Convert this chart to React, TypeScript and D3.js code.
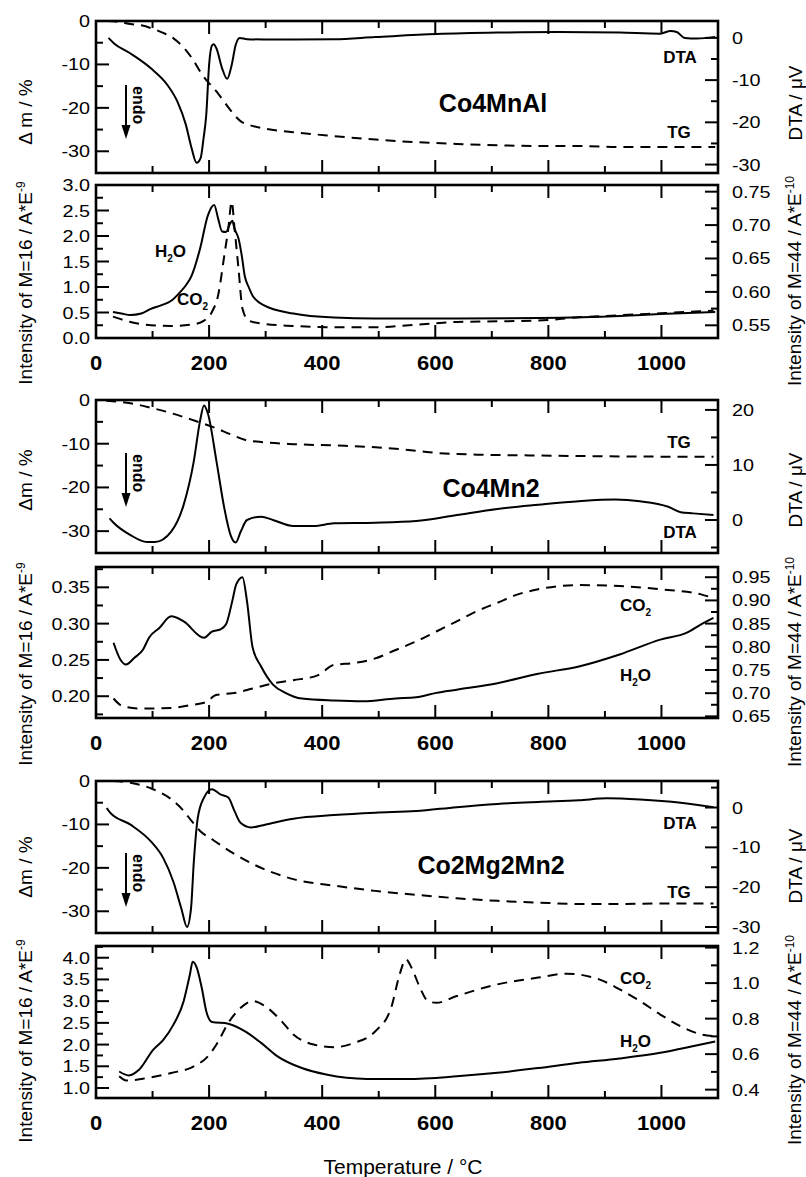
import React from 'react';
import * as d3 from 'd3';

type Pt = [number, number];

// ---------- Data (temperature °C, value) ----------
// Co4MnAl
const alTG: Pt[] = [[20,0],[40,-0.2],[61,-0.7],[80,-1.0],[101,-1.8],[120,-2.8],[137,-4.0],[157,-6.4],[172,-9.0],[184,-11.6],[195,-13.6],[205,-15.0],[220,-17.4],[237,-20.4],[255,-23.0],[278,-24.2],[300,-24.8],[349,-25.6],[421,-26.5],[494,-27.3],[566,-27.9],[638,-28.3],[710,-28.6],[782,-28.8],[854,-28.8],[926,-29.0],[1000,-29.0],[1095,-29.0]];
const alDTA: Pt[] = [[22,0],[32,-1.3],[61,-3.7],[97,-7.2],[126,-11.1],[144,-15.1],[159,-20.6],[169,-26.1],[178,-29.6],[185,-28.5],[190,-24],[195,-18.2],[200,-6.4],[205,-1.8],[208,-1.5],[213,-2.5],[223,-7.2],[232,-9.7],[240,-6.4],[247,-1.7],[254,0],[267,-0.3],[313,-0.4],[421,-0.3],[494,0.2],[602,0.9],[710,1.25],[818,1.4],[926,1.25],[998,1.0],[1016,1.65],[1027,1.4],[1041,0],[1063,-0.15],[1095,0.24]];
const alH2O: Pt[] = [[30,0.51],[45,0.48],[61,0.45],[80,0.48],[97,0.57],[115,0.64],[133,0.73],[148,0.89],[160,1.05],[169,1.22],[184,1.75],[198,2.41],[209,2.61],[216,2.34],[223,2.09],[230,2.08],[237,2.24],[241,2.3],[245,2.14],[252,1.95],[258,1.6],[263,1.22],[270,1.0],[277,0.83],[299,0.63],[349,0.48],[421,0.40],[494,0.38],[638,0.38],[782,0.39],[926,0.43],[998,0.47],[1095,0.51]];
const alCO2: Pt[] = [[30,0.563],[61,0.555],[97,0.55],[133,0.549],[169,0.551],[191,0.557],[205,0.570],[216,0.595],[227,0.655],[234,0.695],[240,0.735],[245,0.695],[252,0.635],[259,0.575],[270,0.557],[299,0.552],[349,0.549],[421,0.547],[494,0.547],[566,0.551],[638,0.555],[710,0.556],[782,0.557],[854,0.562],[926,0.565],[998,0.568],[1092,0.572]];

// Co4Mn2
const mnTG: Pt[] = [[18,-0.2],[61,-0.75],[101,-1.9],[133,-3.0],[169,-4.5],[205,-6.1],[241,-8.0],[263,-9.1],[292,-9.6],[349,-10.1],[421,-10.4],[494,-10.8],[566,-11.6],[602,-12.1],[674,-12.5],[782,-12.7],[926,-12.9],[1092,-13.0]];
const mnDTA: Pt[] = [[24,0.3],[32,-0.6],[61,-2.75],[90,-4.0],[104,-4.0],[133,-2.1],[155,2.75],[173,10.7],[184,18.0],[191,20.8],[198,19.3],[213,10.7],[227,2.1],[238,-2.75],[247,-4.1],[256,-2.1],[267,0],[292,0.6],[313,0],[349,-1.1],[385,-1.1],[421,-0.6],[494,-0.5],[566,-0.2],[638,0.9],[710,2.0],[782,2.75],[854,3.4],[918,3.7],[962,3.4],[1012,2.4],[1034,1.4],[1056,1.2],[1092,0.9]];
const mnH2O: Pt[] = [[31,0.2736],[43,0.2506],[53,0.2437],[68,0.253],[83,0.264],[94,0.281],[112,0.294],[133,0.310],[155,0.303],[191,0.2805],[205,0.289],[220,0.292],[230,0.299],[241,0.331],[248,0.354],[259,0.364],[267,0.331],[277,0.267],[292,0.241],[313,0.216],[335,0.2046],[364,0.1967],[421,0.194],[472,0.193],[530,0.197],[566,0.1985],[602,0.2046],[638,0.209],[710,0.218],[782,0.231],[854,0.241],[926,0.2575],[998,0.278],[1045,0.2875],[1070,0.299],[1092,0.308]];
const mnCO2: Pt[] = [[31,0.6885],[47,0.672],[76,0.667],[133,0.668],[166,0.674],[195,0.681],[212,0.696],[248,0.701],[277,0.710],[313,0.721],[349,0.728],[393,0.739],[421,0.761],[457,0.765],[494,0.775],[530,0.793],[566,0.8115],[602,0.833],[638,0.855],[674,0.877],[710,0.895],[746,0.913],[782,0.924],[854,0.933],[926,0.931],[998,0.924],[1070,0.913],[1092,0.905]];

// Co2Mg2Mn2
const mgTG: Pt[] = [[30,0],[61,-0.4],[101,-1.9],[133,-4.2],[155,-6.9],[169,-9.2],[184,-11.5],[205,-13.4],[241,-16.5],[277,-19.1],[313,-21.1],[349,-22.6],[421,-24.1],[494,-25.3],[566,-26.2],[638,-27.0],[710,-27.6],[782,-28.0],[854,-28.3],[926,-28.3],[998,-28.2],[1092,-28.2]];
const mgDTA: Pt[] = [[19,-0.1],[25,-1.3],[61,-4.3],[97,-8.5],[119,-12.7],[137,-18.7],[151,-25.4],[161,-30.0],[168,-25.4],[173,-13.6],[180,-2.6],[191,2.5],[205,4.6],[220,3.3],[234,2.5],[245,-0.9],[256,-3.9],[274,-5.0],[299,-4.3],[349,-2.8],[421,-1.9],[494,-1.3],[566,-0.9],[638,0.1],[710,0.9],[782,1.4],[854,1.8],[904,2.3],[962,2.0],[1034,1.2],[1092,0.1]];
const mgH2O: Pt[] = [[41,1.38],[58,1.29],[76,1.42],[101,1.88],[119,2.11],[137,2.46],[155,3.0],[166,3.61],[171,3.91],[178,3.78],[187,3.31],[195,2.77],[205,2.52],[234,2.48],[263,2.31],[292,2.04],[321,1.73],[364,1.46],[407,1.31],[479,1.21],[551,1.21],[638,1.27],[710,1.35],[782,1.46],[854,1.58],[926,1.68],[998,1.81],[1055,1.96],[1095,2.07]];
const mgCO2: Pt[] = [[41,0.475],[54,0.451],[83,0.462],[133,0.494],[173,0.531],[198,0.588],[213,0.654],[234,0.776],[256,0.861],[277,0.899],[299,0.870],[328,0.786],[349,0.711],[385,0.654],[421,0.639],[457,0.664],[494,0.729],[522,0.861],[537,1.049],[548,1.134],[558,1.087],[573,0.974],[587,0.899],[602,0.889],[638,0.927],[710,0.993],[782,1.031],[832,1.053],[890,1.021],[926,0.965],[962,0.899],[998,0.823],[1034,0.757],[1070,0.711],[1095,0.701]];

// Tick labels
const tempTicks = [0, 200, 400, 600, 800, 1000];
const massTicks = [0, -10, -20, -30];
const dtaTicksA = [0, -10, -20, -30];
const dtaTicksB = [0, 10, 20];
const dtaTicksC = [0, -10, -20, -30];
const m16TicksA = [0, 0.5, 1.0, 1.5, 2.0, 2.5, 3.0];
const m44TicksA = [0.55, 0.6, 0.65, 0.7, 0.75];
const m16TicksB = [0.2, 0.25, 0.3, 0.35];
const m44TicksB = [0.65, 0.7, 0.75, 0.8, 0.85, 0.9, 0.95];
const m16TicksC = [1.0, 1.5, 2.0, 2.5, 3.0, 3.5, 4.0];
const m44TicksC = [0.4, 0.6, 0.8, 1.0, 1.2];

const FONT = "'Liberation Sans', Arial, Helvetica, sans-serif";
const X0 = 96, X1 = 718;
const x = d3.scaleLinear().domain([0, 1100]).range([X0, X1]);

interface Curve { data: Pt[]; side: 'l' | 'r'; dashed: boolean; }
interface PanelCfg {
  top: number; bottom: number;
  lDom: [number, number]; rDom: [number, number];
  lTicks: number[]; lMinor: number; lDec: number;
  rTicks: number[]; rMinor: number; rDec: number;
  curves: Curve[];
}

const panels: PanelCfg[] = [
  { top: 21, bottom: 173, lDom: [-35, 0], rDom: [-32, 4], lTicks: massTicks, lMinor: 5, lDec: 0, rTicks: dtaTicksA, rMinor: 5, rDec: 0,
    curves: [{ data: alTG, side: 'l', dashed: true }, { data: alDTA, side: 'r', dashed: false }] },
  { top: 185, bottom: 338, lDom: [0, 3.0], rDom: [0.531, 0.760], lTicks: m16TicksA, lMinor: 0.25, lDec: 1, rTicks: m44TicksA, rMinor: 0.025, rDec: 2,
    curves: [{ data: alH2O, side: 'l', dashed: false }, { data: alCO2, side: 'r', dashed: true }] },
  { top: 400, bottom: 553, lDom: [-35, 0], rDom: [-6, 21.8], lTicks: massTicks, lMinor: 5, lDec: 0, rTicks: dtaTicksB, rMinor: 5, rDec: 0,
    curves: [{ data: mnTG, side: 'l', dashed: true }, { data: mnDTA, side: 'r', dashed: false }] },
  { top: 567, bottom: 718, lDom: [0.170, 0.378], rDom: [0.6465, 0.972], lTicks: m16TicksB, lMinor: 0.025, lDec: 2, rTicks: m44TicksB, rMinor: 0.025, rDec: 2,
    curves: [{ data: mnH2O, side: 'l', dashed: false }, { data: mnCO2, side: 'r', dashed: true }] },
  { top: 781, bottom: 933, lDom: [-35, 0], rDom: [-31.5, 6.66], lTicks: massTicks, lMinor: 5, lDec: 0, rTicks: dtaTicksC, rMinor: 5, rDec: 0,
    curves: [{ data: mgTG, side: 'l', dashed: true }, { data: mgDTA, side: 'r', dashed: false }] },
  { top: 946, bottom: 1098, lDom: [0.77, 4.27], rDom: [0.353, 1.209], lTicks: m16TicksC, lMinor: 0.25, lDec: 1, rTicks: m44TicksC, rMinor: 0.1, rDec: 1,
    curves: [{ data: mgH2O, side: 'l', dashed: false }, { data: mgCO2, side: 'r', dashed: true }] },
];

function minorTicks(dom: [number, number], step: number, majors: number[]): number[] {
  const lo = Math.min(dom[0], dom[1]), hi = Math.max(dom[0], dom[1]);
  const out: number[] = [];
  for (let i = Math.ceil(lo / step - 1e-9); i <= Math.floor(hi / step + 1e-9); i++) {
    const v = i * step;
    if (!majors.some(m => Math.abs(m - v) < step / 10)) out.push(v);
  }
  return out;
}

const MAJ = 13, MIN = 7;
const SX = 1.2;

function Panel({ cfg }: { cfg: PanelCfg }) {
  const yL = d3.scaleLinear().domain(cfg.lDom).range([cfg.bottom, cfg.top]);
  const yR = d3.scaleLinear().domain(cfg.rDom).range([cfg.bottom, cfg.top]);
  const xTicks = d3.range(100, 1001, 100);
  const lMin = minorTicks(cfg.lDom, cfg.lMinor, cfg.lTicks);
  const rMin = minorTicks(cfg.rDom, cfg.rMinor, cfg.rTicks);
  return (
    <g>
      {cfg.curves.map((c, i) => {
        const ys = c.side === 'l' ? yL : yR;
        const line = d3.line<Pt>().x(d => x(d[0])).y(d => ys(d[1])).curve(d3.curveMonotoneX);
        return <path key={i} d={line(c.data) || ''} fill="none" stroke="#000" strokeWidth={2}
          strokeDasharray={c.dashed ? '10,7' : undefined} strokeLinejoin="round" />;
      })}
      {xTicks.map(t => {
        const len = t % 200 === 0 ? MAJ : MIN;
        return <g key={'x' + t}>
          <line x1={x(t)} x2={x(t)} y1={cfg.bottom} y2={cfg.bottom - len} stroke="#000" strokeWidth={2} />
          <line x1={x(t)} x2={x(t)} y1={cfg.top} y2={cfg.top + len} stroke="#000" strokeWidth={2} />
        </g>;
      })}
      {cfg.lTicks.map(v => <g key={'l' + v}>
        <line x1={X0} x2={X0 + MAJ} y1={yL(v)} y2={yL(v)} stroke="#000" strokeWidth={2} />
        <text transform={`translate(90,${yL(v) + 6}) scale(${SX},1)`} textAnchor="end" fontSize={16.5} fontFamily={FONT}>{v.toFixed(cfg.lDec)}</text>
      </g>)}
      {lMin.map(v => <line key={'lm' + v} x1={X0} x2={X0 + MIN} y1={yL(v)} y2={yL(v)} stroke="#000" strokeWidth={2} />)}
      {cfg.rTicks.map(v => <g key={'r' + v}>
        <line x1={X1} x2={X1 - MAJ} y1={yR(v)} y2={yR(v)} stroke="#000" strokeWidth={2} />
        <text transform={`translate(732,${yR(v) + 6}) scale(${SX},1)`} textAnchor="start" fontSize={16.5} fontFamily={FONT}>{v.toFixed(cfg.rDec)}</text>
      </g>)}
      {rMin.map(v => <line key={'rm' + v} x1={X1} x2={X1 - MIN} y1={yR(v)} y2={yR(v)} stroke="#000" strokeWidth={2} />)}
      <rect x={X0} y={cfg.top} width={X1 - X0} height={cfg.bottom - cfg.top} fill="none" stroke="#000" strokeWidth={2.6} />
    </g>
  );
}

function Endo({ top }: { top: number }) {
  return <g>
    <line x1={126} x2={126} y1={top} y2={top + 42} stroke="#000" strokeWidth={2} />
    <path d={`M121.5,${top + 40} L130.5,${top + 40} L126,${top + 54} Z`} fill="#000" />
    <text transform={`translate(133,${top + 1}) rotate(90)`} fontSize={16} fontWeight="bold" fontFamily={FONT}>endo</text>
  </g>;
}

function CO2Label({ x0, y }: { x0: number; y: number }) {
  return <text x={x0} y={y} fontSize={17} fontWeight="bold" fontFamily={FONT}>
    CO<tspan dy={5} fontSize={10}>2</tspan>
  </text>;
}

function H2OLabel({ x0, y }: { x0: number; y: number }) {
  return <text x={x0} y={y} fontSize={17} fontWeight="bold" fontFamily={FONT}>
    H<tspan dy={5} fontSize={10}>2</tspan><tspan dy={-5}>O</tspan>
  </text>;
}

function VTitle({ x0, yc, children }: { x0: number; yc: number; children: React.ReactNode }) {
  return <text transform={`translate(${x0},${yc}) rotate(-90)`} textAnchor="middle" fontSize={19} fontFamily={FONT}>{children}</text>;
}

export default function App() {
  const tg = (xx: number, yy: number, s: string, size = 17) =>
    <text x={xx} y={yy} textAnchor="middle" fontSize={size} fontWeight="bold" fontFamily={FONT}>{s}</text>;
  return (
    <svg width={806} height={1177} style={{ position: 'absolute', left: 0, top: 0, background: '#fff' }}>
      <rect x={0} y={0} width={806} height={1177} fill="#fff" />
      {panels.map((p, i) => <Panel key={i} cfg={p} />)}

      {/* x tick labels */}
      {[338, 718, 1098].map(b => tempTicks.map(t =>
        <text key={b + '-' + t} transform={`translate(${x(t)},${b + 32}) scale(1.1,1)`} textAnchor="middle" fontSize={20} fontWeight="bold" fontFamily={FONT}>{t}</text>))}
      <text x={403} y={1174} textAnchor="middle" fontSize={21} fontFamily={FONT}>Temperature / °C</text>

      {/* panel annotations */}
      {tg(680, 63, 'DTA')}{tg(679, 138, 'TG')}
      {tg(493, 112, 'Co4MnAl', 25)}
      {tg(679, 448, 'TG')}{tg(680, 538, 'DTA')}
      {tg(491, 497, 'Co4Mn2', 25)}
      {tg(680, 829, 'DTA')}{tg(679, 898, 'TG')}
      {tg(491, 874, 'Co2Mg2Mn2', 25)}

      <H2OLabel x0={155} y={257} />
      <CO2Label x0={177} y={305} />
      <CO2Label x0={620} y={611} />
      <H2OLabel x0={620} y={681} />
      <CO2Label x0={620} y={984} />
      <H2OLabel x0={620} y={1047} />

      <Endo top={85} />
      <Endo top={453} />
      <Endo top={853} />

      {/* axis titles */}
      <VTitle x0={32} yc={112}>Δ m / %</VTitle>
      <VTitle x0={32} yc={480}>Δm / %</VTitle>
      <VTitle x0={32} yc={867}>Δm / %</VTitle>
      <VTitle x0={802} yc={103}>DTA / μV</VTitle>
      <VTitle x0={802} yc={490}>DTA / μV</VTitle>
      <VTitle x0={802} yc={866}>DTA / μV</VTitle>
      {[283, 664, 1041].map(yc => <VTitle key={'l' + yc} x0={32} yc={yc}>Intensity of M=16 / A*E<tspan dy={-7} fontSize={12}>-9</tspan></VTitle>)}
      {[281, 662, 1040].map(yc => <VTitle key={'r' + yc} x0={801} yc={yc}>Intensity of M=44 / A*E<tspan dy={-7} fontSize={12}>-10</tspan></VTitle>)}
    </svg>
  );
}
